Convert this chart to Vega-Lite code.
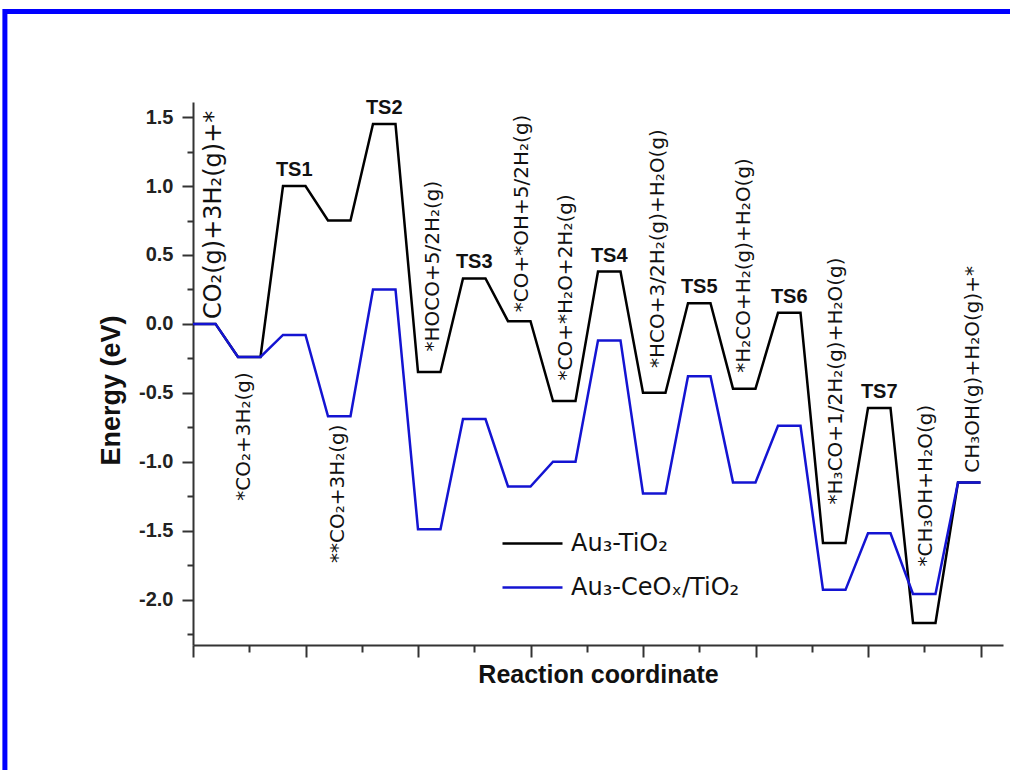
{
  "$schema": "https://vega.github.io/schema/vega-lite/v6.json",
  "width": 810,
  "height": 543,
  "autosize": {"type": "none"},
  "padding": {"left": 193, "top": 102, "right": 7, "bottom": 125},
  "background": "white",
  "config": {"view": {"stroke": null}},
  "resolve": {"axis": {"y": "independent"}},
  "datasets": {
    "black": [
      {"series": "Au₃-TiO₂", "x": 0, "E": 0}, {"series": "Au₃-TiO₂", "x": 0.5, "E": 0},
      {"series": "Au₃-TiO₂", "x": 1, "E": -0.24}, {"series": "Au₃-TiO₂", "x": 1.5, "E": -0.24},
      {"series": "Au₃-TiO₂", "x": 2, "E": 1.0}, {"series": "Au₃-TiO₂", "x": 2.5, "E": 1.0},
      {"series": "Au₃-TiO₂", "x": 3, "E": 0.75}, {"series": "Au₃-TiO₂", "x": 3.5, "E": 0.75},
      {"series": "Au₃-TiO₂", "x": 4, "E": 1.45}, {"series": "Au₃-TiO₂", "x": 4.5, "E": 1.45},
      {"series": "Au₃-TiO₂", "x": 5, "E": -0.35}, {"series": "Au₃-TiO₂", "x": 5.5, "E": -0.35},
      {"series": "Au₃-TiO₂", "x": 6, "E": 0.33}, {"series": "Au₃-TiO₂", "x": 6.5, "E": 0.33},
      {"series": "Au₃-TiO₂", "x": 7, "E": 0.02}, {"series": "Au₃-TiO₂", "x": 7.5, "E": 0.02},
      {"series": "Au₃-TiO₂", "x": 8, "E": -0.56}, {"series": "Au₃-TiO₂", "x": 8.5, "E": -0.56},
      {"series": "Au₃-TiO₂", "x": 9, "E": 0.38}, {"series": "Au₃-TiO₂", "x": 9.5, "E": 0.38},
      {"series": "Au₃-TiO₂", "x": 10, "E": -0.5}, {"series": "Au₃-TiO₂", "x": 10.5, "E": -0.5},
      {"series": "Au₃-TiO₂", "x": 11, "E": 0.15}, {"series": "Au₃-TiO₂", "x": 11.5, "E": 0.15},
      {"series": "Au₃-TiO₂", "x": 12, "E": -0.47}, {"series": "Au₃-TiO₂", "x": 12.5, "E": -0.47},
      {"series": "Au₃-TiO₂", "x": 13, "E": 0.08}, {"series": "Au₃-TiO₂", "x": 13.5, "E": 0.08},
      {"series": "Au₃-TiO₂", "x": 14, "E": -1.59}, {"series": "Au₃-TiO₂", "x": 14.5, "E": -1.59},
      {"series": "Au₃-TiO₂", "x": 15, "E": -0.61}, {"series": "Au₃-TiO₂", "x": 15.5, "E": -0.61},
      {"series": "Au₃-TiO₂", "x": 16, "E": -2.17}, {"series": "Au₃-TiO₂", "x": 16.5, "E": -2.17},
      {"series": "Au₃-TiO₂", "x": 17, "E": -1.15}, {"series": "Au₃-TiO₂", "x": 17.5, "E": -1.15}
    ],
    "blue": [
      {"series": "Au₃-CeOₓ/TiO₂", "x": 0, "E": 0}, {"series": "Au₃-CeOₓ/TiO₂", "x": 0.5, "E": 0},
      {"series": "Au₃-CeOₓ/TiO₂", "x": 1, "E": -0.24}, {"series": "Au₃-CeOₓ/TiO₂", "x": 1.5, "E": -0.24},
      {"series": "Au₃-CeOₓ/TiO₂", "x": 2, "E": -0.08}, {"series": "Au₃-CeOₓ/TiO₂", "x": 2.5, "E": -0.08},
      {"series": "Au₃-CeOₓ/TiO₂", "x": 3, "E": -0.67}, {"series": "Au₃-CeOₓ/TiO₂", "x": 3.5, "E": -0.67},
      {"series": "Au₃-CeOₓ/TiO₂", "x": 4, "E": 0.25}, {"series": "Au₃-CeOₓ/TiO₂", "x": 4.5, "E": 0.25},
      {"series": "Au₃-CeOₓ/TiO₂", "x": 5, "E": -1.49}, {"series": "Au₃-CeOₓ/TiO₂", "x": 5.5, "E": -1.49},
      {"series": "Au₃-CeOₓ/TiO₂", "x": 6, "E": -0.69}, {"series": "Au₃-CeOₓ/TiO₂", "x": 6.5, "E": -0.69},
      {"series": "Au₃-CeOₓ/TiO₂", "x": 7, "E": -1.18}, {"series": "Au₃-CeOₓ/TiO₂", "x": 7.5, "E": -1.18},
      {"series": "Au₃-CeOₓ/TiO₂", "x": 8, "E": -1.0}, {"series": "Au₃-CeOₓ/TiO₂", "x": 8.5, "E": -1.0},
      {"series": "Au₃-CeOₓ/TiO₂", "x": 9, "E": -0.12}, {"series": "Au₃-CeOₓ/TiO₂", "x": 9.5, "E": -0.12},
      {"series": "Au₃-CeOₓ/TiO₂", "x": 10, "E": -1.23}, {"series": "Au₃-CeOₓ/TiO₂", "x": 10.5, "E": -1.23},
      {"series": "Au₃-CeOₓ/TiO₂", "x": 11, "E": -0.38}, {"series": "Au₃-CeOₓ/TiO₂", "x": 11.5, "E": -0.38},
      {"series": "Au₃-CeOₓ/TiO₂", "x": 12, "E": -1.15}, {"series": "Au₃-CeOₓ/TiO₂", "x": 12.5, "E": -1.15},
      {"series": "Au₃-CeOₓ/TiO₂", "x": 13, "E": -0.74}, {"series": "Au₃-CeOₓ/TiO₂", "x": 13.5, "E": -0.74},
      {"series": "Au₃-CeOₓ/TiO₂", "x": 14, "E": -1.93}, {"series": "Au₃-CeOₓ/TiO₂", "x": 14.5, "E": -1.93},
      {"series": "Au₃-CeOₓ/TiO₂", "x": 15, "E": -1.52}, {"series": "Au₃-CeOₓ/TiO₂", "x": 15.5, "E": -1.52},
      {"series": "Au₃-CeOₓ/TiO₂", "x": 16, "E": -1.96}, {"series": "Au₃-CeOₓ/TiO₂", "x": 16.5, "E": -1.96},
      {"series": "Au₃-CeOₓ/TiO₂", "x": 17, "E": -1.15}, {"series": "Au₃-CeOₓ/TiO₂", "x": 17.5, "E": -1.15}
    ],
    "ts": [
      {"label": "TS1", "x": 2.25, "E": 1.0},
      {"label": "TS2", "x": 4.25, "E": 1.45},
      {"label": "TS3", "x": 6.25, "E": 0.33},
      {"label": "TS4", "x": 9.25, "E": 0.38},
      {"label": "TS5", "x": 11.25, "E": 0.15},
      {"label": "TS6", "x": 13.25, "E": 0.08},
      {"label": "TS7", "x": 15.25, "E": -0.61}
    ],
    "above": [
      {"label": "CO₂(g)+3H₂(g)+*", "x": 0.46, "E": 0.035},
      {"label": "*HOCO+5/2H₂(g)", "x": 5.33, "E": -0.2},
      {"label": "*CO+*OH+5/2H₂(g)", "x": 7.32, "E": 0.085},
      {"label": "*CO+*H₂O+2H₂(g)", "x": 8.29, "E": -0.41},
      {"label": "*HCO+3/2H₂(g)+H₂O(g)", "x": 10.33, "E": -0.32},
      {"label": "*H₂CO+H₂(g)+H₂O(g)", "x": 12.24, "E": -0.355},
      {"label": "*H₃CO+1/2H₂(g)+H₂O(g)", "x": 14.29, "E": -1.31},
      {"label": "*CH₃OH+H₂O(g)", "x": 16.29, "E": -1.76},
      {"label": "CH₃OH(g)+H₂O(g)+*", "x": 17.33, "E": -1.08}
    ],
    "below": [
      {"label": "*CO₂+3H₂(g)", "x": 1.13, "E": -0.35},
      {"label": "**CO₂+3H₂(g)", "x": 3.23, "E": -0.73}
    ]
  },
  "layer": [
    {
      "data": {"values": [{"frame": "border"}]},
      "mark": {"type": "rect", "fill": null, "fillOpacity": 0, "stroke": "#0000ff", "strokeWidth": 5},
      "encoding": {
        "x": {"datum": -4.18, "type": "quantitative", "scale": {"domain": [0, 18], "nice": false, "zero": false}},
        "x2": {"datum": 20},
        "y": {"datum": 2.267, "type": "quantitative", "scale": {"domain": [-2.33, 1.61], "nice": false, "zero": false}, "axis": null},
        "y2": {"datum": -3.5}
      }
    },
    {
      "data": {"name": "black"},
      "mark": {"type": "line", "strokeWidth": 2.5},
      "encoding": {
        "x": {
          "field": "x", "type": "quantitative",
          "scale": {"domain": [0, 18], "nice": false, "zero": false},
          "axis": {
            "values": [0, 1.25, 2.5, 3.75, 5, 6.25, 7.5, 8.75, 10, 11.25, 12.5, 13.75, 15, 16.25, 17.5],
            "labels": false,
            "grid": false,
            "domainColor": "#333",
            "domainWidth": 2,
            "tickColor": "#333",
            "tickWidth": 2,
            "tickSize": {"condition": {"test": "datum.value % 2.5 === 0", "value": 12}, "value": 7},
            "title": "Reaction coordinate",
            "titleFont": "Liberation Sans",
            "titleFontWeight": "bold",
            "titleFontSize": 25,
            "titleColor": "#111",
            "titleBaseline": "alphabetic",
            "titleY": 37
          }
        },
        "y": {
          "field": "E", "type": "quantitative",
          "scale": {"domain": [-2.33, 1.61], "nice": false, "zero": false},
          "axis": {
            "orient": "left",
            "values": [-2, -1.5, -1, -0.5, 0, 0.5, 1, 1.5],
            "format": ".1f",
            "labelExpr": "replace(datum.label, '−', '-')",
            "labelOverlap": false,
            "labelFont": "Liberation Sans",
            "labelFontWeight": "bold",
            "labelFontSize": 20,
            "labelColor": "#222",
            "labelPadding": 9,
            "grid": false,
            "domainColor": "#333",
            "domainWidth": 2,
            "tickColor": "#333",
            "tickWidth": 2,
            "tickSize": 11,
            "title": "Energy (eV)",
            "titleFont": "Liberation Sans",
            "titleFontWeight": "bold",
            "titleFontSize": 27,
            "titleColor": "#111",
            "titleAngle": 270,
            "titleBaseline": "alphabetic",
            "titleX": -74,
            "titleY": 288
          }
        },
        "color": {
          "field": "series", "type": "nominal",
          "scale": {"domain": ["Au₃-TiO₂", "Au₃-CeOₓ/TiO₂"], "range": ["#000000", "#1414d2"]},
          "legend": {
            "orient": "none",
            "legendX": 308,
            "legendY": 410,
            "title": null,
            "padding": 0,
            "symbolType": "stroke",
            "symbolSize": 3600,
            "symbolStrokeWidth": 2.5,
            "labelFont": "DejaVu Sans",
            "labelFontSize": 24,
            "labelColor": "#111",
            "labelOffset": 7,
            "labelLimit": 400,
            "rowPadding": -22
          }
        }
      }
    },
    {
      "data": {"name": "blue"},
      "mark": {"type": "line", "strokeWidth": 2.5},
      "encoding": {
        "x": {"field": "x", "type": "quantitative", "scale": {"domain": [0, 18], "nice": false, "zero": false}},
        "y": {
          "field": "E", "type": "quantitative",
          "scale": {"domain": [-2.33, 1.61], "nice": false, "zero": false},
          "axis": {
            "orient": "left",
            "values": [-2.25, -1.75, -1.25, -0.75, -0.25, 0.25, 0.75, 1.25],
            "labels": false,
            "domain": false,
            "grid": false,
            "tickColor": "#333",
            "tickWidth": 2,
            "tickSize": 6,
            "title": null
          }
        },
        "color": {"field": "series", "type": "nominal", "scale": {"domain": ["Au₃-TiO₂", "Au₃-CeOₓ/TiO₂"], "range": ["#000000", "#1414d2"]}}
      }
    },
    {
      "data": {"name": "ts"},
      "mark": {"type": "text", "font": "Liberation Sans", "fontWeight": "bold", "fontSize": 20, "align": "center", "baseline": "alphabetic", "dy": -10, "color": "#111"},
      "encoding": {
        "x": {"field": "x", "type": "quantitative", "scale": {"domain": [0, 18], "nice": false, "zero": false}},
        "y": {"field": "E", "type": "quantitative", "scale": {"domain": [-2.33, 1.61], "nice": false, "zero": false}, "axis": null},
        "text": {"field": "label"}
      }
    },
    {
      "data": {"name": "above"},
      "mark": {"type": "text", "font": "DejaVu Sans", "angle": 270, "align": "left", "baseline": "middle", "color": "#111"},
      "encoding": {
        "x": {"field": "x", "type": "quantitative", "scale": {"domain": [0, 18], "nice": false, "zero": false}},
        "y": {"field": "E", "type": "quantitative", "scale": {"domain": [-2.33, 1.61], "nice": false, "zero": false}, "axis": null},
        "text": {"field": "label"},
        "size": {"condition": {"test": "datum.x < 1", "value": 24}, "value": 20}
      }
    },
    {
      "data": {"name": "below"},
      "mark": {"type": "text", "font": "DejaVu Sans", "fontSize": 20, "angle": 270, "align": "right", "baseline": "middle", "color": "#111"},
      "encoding": {
        "x": {"field": "x", "type": "quantitative", "scale": {"domain": [0, 18], "nice": false, "zero": false}},
        "y": {"field": "E", "type": "quantitative", "scale": {"domain": [-2.33, 1.61], "nice": false, "zero": false}, "axis": null},
        "text": {"field": "label"}
      }
    }
  ]
}
